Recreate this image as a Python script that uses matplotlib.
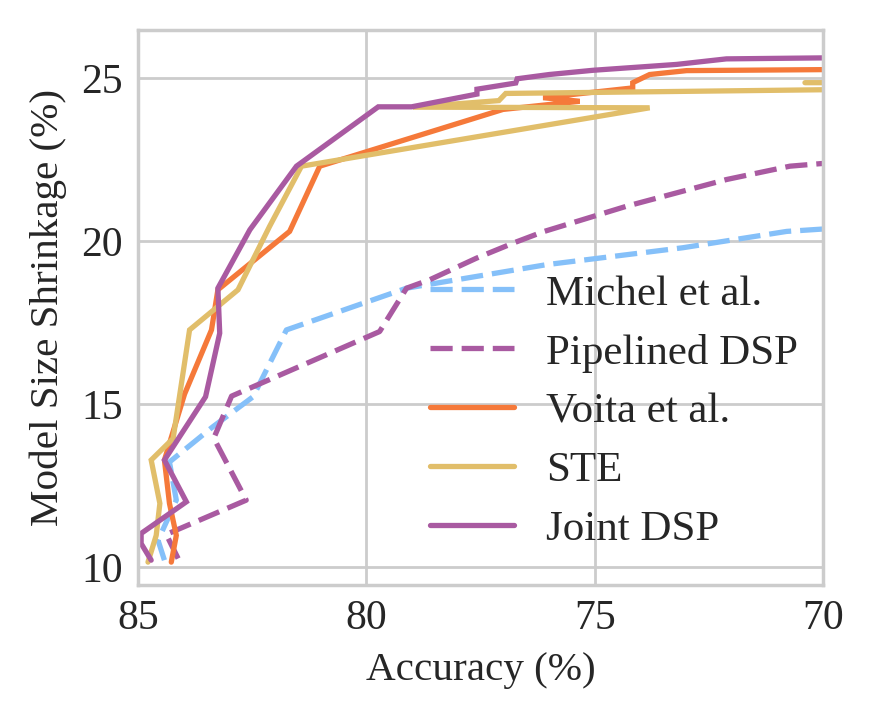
import matplotlib
matplotlib.use('Agg')
import matplotlib.pyplot as plt

# ---------- data (accuracy %, model size shrinkage %) ----------
michel_acc = [84.42, 84.56, 84.16, 84.31, 83.36, 82.48, 81.75, 79.12, 76.06, 73.07, 70.80, 70.04, 69.50]
michel_shr = [10.21, 10.82, 12.05, 13.22, 14.30, 15.22, 17.27, 18.55, 19.27, 19.79, 20.29, 20.36, 20.40]

pipe_acc = [84.12, 84.38, 82.63, 83.34, 82.95, 79.71, 79.12, 78.61, 77.59, 76.79, 76.13, 74.31, 72.12, 70.73, 70.04, 69.50]
pipe_shr = [10.26, 11.00, 12.05, 13.95, 15.24, 17.22, 18.55, 18.81, 19.47, 19.93, 20.28, 21.06, 21.88, 22.29, 22.37, 22.40]

voita_acc = [84.27, 84.16, 84.31, 84.42, 83.98, 83.39, 83.25, 81.68, 81.02, 77.01, 75.33, 76.13, 74.17, 74.17, 73.80, 72.99, 70.04, 69.50]
voita_shr = [10.15, 10.97, 11.95, 13.28, 15.30, 17.27, 18.50, 20.29, 22.29, 24.03, 24.28, 24.39, 24.69, 24.85, 25.10, 25.22, 25.25, 25.25]

ste_acc = [84.78, 84.60, 84.52, 84.71, 84.23, 83.87, 82.81, 82.12, 81.42, 73.80, 78.98, 77.10, 76.95, 69.00, 69.00, 70.40]
ste_shr = [10.15, 10.97, 11.95, 13.28, 13.94, 17.27, 18.50, 20.44, 22.29, 24.08, 24.10, 24.30, 24.52, 24.65, 24.85, 24.85]

joint_acc = [84.71, 84.93, 84.93, 83.94, 84.42, 83.52, 83.21, 83.25, 82.55, 81.53, 79.74, 79.01, 77.58, 77.58,
             76.73, 76.70, 76.00, 75.04, 73.21, 72.12, 70.04, 69.50]
joint_shr = [10.21, 10.72, 11.03, 12.00, 13.28, 15.22, 17.17, 18.55, 20.34, 22.29, 24.11, 24.11, 24.50, 24.65,
             24.84, 24.97, 25.10, 25.23, 25.41, 25.58, 25.61, 25.61]

labels = ['Michel et al.', 'Pipelined DSP', 'Voita et al.', 'STE', 'Joint DSP']
colors = ['#85C0F9', '#A95AA1', '#F5793A', '#E1BE6A', '#A95AA1']

# ---------- style ----------
plt.rcParams['font.family'] = ['Liberation Serif', 'DejaVu Serif']
plt.rcParams['font.size'] = 15
plt.rcParams['text.color'] = '#262626'
plt.rcParams['axes.labelcolor'] = '#262626'
plt.rcParams['xtick.color'] = '#262626'
plt.rcParams['ytick.color'] = '#262626'

fig = plt.figure(figsize=(4.365, 3.6), dpi=200)
ax = fig.add_axes([0.158, 0.188, 0.785, 0.771])

series = [(michel_acc, michel_shr), (pipe_acc, pipe_shr), (voita_acc, voita_shr),
          (ste_acc, ste_shr), (joint_acc, joint_shr)]
for k, ((xs, ys), lab, col) in enumerate(zip(series, labels, colors)):
    if k < 2:
        ax.plot(xs, ys, color=col, lw=1.9, label=lab, dashes=(4.2, 1.7))
    else:
        ax.plot(xs, ys, color=col, lw=1.9, label=lab,
                solid_capstyle='round', solid_joinstyle='miter')

ax.set_xlim(85, 70)
ax.set_ylim(9.46, 26.48)
ax.set_xticks([85, 80, 75, 70])
ax.set_yticks([10, 15, 20, 25])
ax.grid(True, color='#cccccc', lw=1.0)
ax.set_axisbelow(True)
for s in ax.spines.values():
    s.set_color('#cccccc')
    s.set_linewidth(1.25)
ax.tick_params(length=0, labelsize=15)
ax.tick_params(axis='x', pad=5.5)
ax.tick_params(axis='y', pad=5.5)

ax.set_xlabel('Accuracy (%)', fontsize=14.8, labelpad=5)
ax.set_ylabel('Model Size Shrinkage (%)', fontsize=14.8, labelpad=5)

ax.legend(loc='lower right', bbox_to_anchor=(1.015, 0.0), frameon=False,
          fontsize=15.5, handlelength=1.97, labelspacing=0.46,
          handletextpad=0.74, borderaxespad=0.42)

fig.savefig('out.png', dpi=200)
